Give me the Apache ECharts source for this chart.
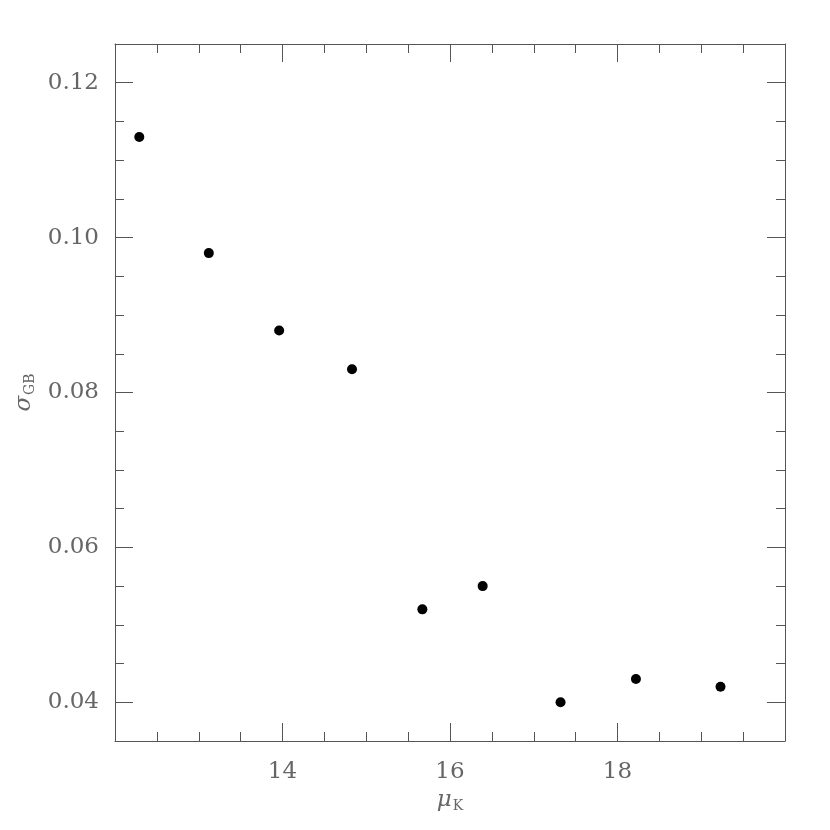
<!DOCTYPE html>
<html>
<head>
<meta charset="utf-8">
<script src="https://cdn.jsdelivr.net/npm/echarts@6/dist/echarts.min.js"></script>
<style>
  html, body { margin: 0; padding: 0; background: #fff; }
  #chart { width: 830px; height: 830px; }
</style>
</head>
<body>
<div id="chart"></div>
<script>
// distance modulus vs. spread of the GB colour
const muK = [12.29, 13.12, 13.96, 14.83, 15.67, 16.39, 17.32, 18.22, 19.23]
const sigmaGB = [0.113, 0.098, 0.088, 0.083, 0.052, 0.055, 0.040, 0.043, 0.042]
const yMajor = [0.04, 0.06, 0.08, 0.10, 0.12]

const axisColor = '#555'
const textColor = '#666'
const font = 'DejaVu Serif'
const yMin = 0.035
const yMax = 0.125

const points = muK.map((x, i) => [x, sigmaGB[i]])

function xAxis (pos, withLabels) {
  return {
    type: 'value',
    position: pos,
    min: 12,
    max: 20,
    interval: 2,
    axisLine: { show: true, onZero: false, lineStyle: { color: axisColor, width: 1 } },
    axisTick: { show: true, inside: true, length: 18, lineStyle: { color: axisColor } },
    minorTick: { show: true, splitNumber: 4, length: 9, lineStyle: { color: axisColor } },
    splitLine: { show: false },
    axisLabel: {
      show: withLabels,
      showMinLabel: false,
      showMaxLabel: false,
      margin: 20,
      color: textColor,
      fontFamily: font,
      fontSize: 23
    },
    name: withLabels ? '{a|μ}{b|K}' : '',
    nameLocation: 'middle',
    nameGap: 46,
    nameTextStyle: {
      rich: {
        a: { fontFamily: font, fontStyle: 'italic', fontSize: 23, color: textColor },
        b: { fontFamily: font, fontSize: 14, color: textColor, padding: [12, 0, 0, 1] }
      }
    }
  }
}

function yAxisMajor (pos, withLabels) {
  return {
    type: 'value',
    position: pos,
    min: yMin,
    max: yMax,
    axisLine: { show: true, onZero: false, lineStyle: { color: axisColor, width: 1 } },
    axisTick: { show: true, inside: true, length: 18, customValues: yMajor, lineStyle: { color: axisColor } },
    splitLine: { show: false },
    axisLabel: {
      show: withLabels,
      customValues: yMajor,
      margin: 16,
      color: textColor,
      fontFamily: font,
      fontSize: 23,
      formatter: v => v.toFixed(2)
    },
    name: withLabels ? '{a|σ}{b|GB}' : '',
    nameLocation: 'middle',
    nameGap: 78,
    nameTextStyle: {
      rich: {
        a: { fontFamily: font, fontStyle: 'italic', fontSize: 23, color: textColor },
        b: { fontFamily: font, fontSize: 14, color: textColor, padding: [12, 0, 0, 1] }
      }
    }
  }
}

function yAxisMinor (pos) {
  return {
    type: 'value',
    position: pos,
    min: yMin,
    max: yMax,
    interval: 0.005,
    axisLine: { show: false },
    axisTick: { show: true, inside: true, length: 9, lineStyle: { color: axisColor } },
    splitLine: { show: false },
    axisLabel: { show: false }
  }
}

const chart = echarts.init(document.getElementById('chart'))
chart.setOption({
  backgroundColor: '#fff',
  animation: false,
  grid: { left: 115, right: 45, top: 44, bottom: 89, containLabel: false },
  xAxis: [xAxis('bottom', true), xAxis('top', false)],
  yAxis: [
    yAxisMajor('left', true),
    yAxisMajor('right', false),
    yAxisMinor('left'),
    yAxisMinor('right')
  ],
  series: [
    {
      type: 'scatter',
      xAxisIndex: 0,
      yAxisIndex: 0,
      symbol: 'circle',
      symbolSize: 10,
      itemStyle: { color: '#000', opacity: 1 },
      data: points
    }
  ]
})
window.addEventListener('resize', () => chart.resize())
</script>
</body>
</html>
